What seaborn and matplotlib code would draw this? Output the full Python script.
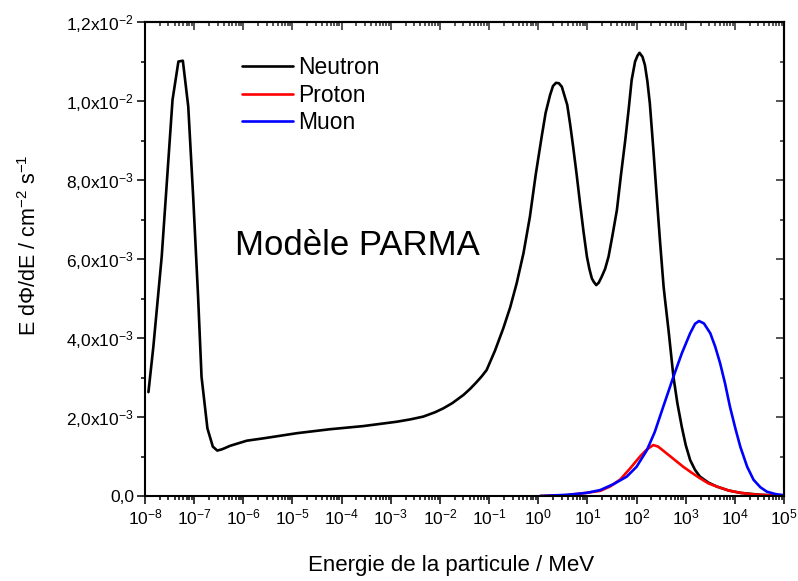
import numpy as np
import pandas as pd
import matplotlib
matplotlib.use("Agg")
import matplotlib.pyplot as plt
import matplotlib.ticker as mticker
import seaborn as sns

# Données (énergie en log10(MeV), flux en 1e-3)
neutron_logE = [-7.93, -7.83, -7.66, -7.44, -7.32, -7.23, -7.12, -7.02, -6.92, -6.85,
                -6.73, -6.62, -6.53, -6.44, -6.38, -6.27, -5.93, -5.59, -4.91, -4.24,
                -3.56, -2.88, -2.60, -2.34, -2.10, -1.93, -1.75, -1.52, -1.38, -1.25,
                -1.15, -1.05, -0.88, -0.71, -0.57, -0.44, -0.30, -0.17, -0.05, 0.07,
                0.15, 0.24, 0.30, 0.36, 0.42, 0.48, 0.59, 0.65, 0.71, 0.78,
                0.85, 0.92, 0.99, 1.04, 1.09, 1.13, 1.18, 1.23, 1.29, 1.36,
                1.43, 1.51, 1.60, 1.68, 1.77, 1.84, 1.90, 1.97, 2.02, 2.06,
                2.12, 2.17, 2.22, 2.27, 2.34, 2.41, 2.48, 2.55, 2.58, 2.65,
                2.75, 2.83, 2.92, 3.00, 3.09, 3.19, 3.29, 3.46, 3.63, 3.87,
                4.11, 4.52, 4.99]
neutron_flux = [2.63, 3.78, 6.06, 10.03, 11.00, 11.02, 9.86, 7.58, 5.05, 3.02,
                1.71, 1.25, 1.15, 1.18, 1.21, 1.27, 1.40, 1.46, 1.59, 1.69,
                1.77, 1.88, 1.94, 2.01, 2.12, 2.22, 2.35, 2.56, 2.72, 2.89,
                3.03, 3.19, 3.68, 4.25, 4.78, 5.38, 6.15, 7.07, 8.15, 9.10,
                9.70, 10.15, 10.38, 10.46, 10.45, 10.36, 9.90, 9.40, 8.84, 8.15,
                7.41, 6.70, 6.06, 5.75, 5.51, 5.42, 5.34, 5.40, 5.55, 5.75,
                6.06, 6.60, 7.24, 8.10, 9.01, 9.80, 10.53, 11.00, 11.15, 11.22,
                11.12, 10.91, 10.50, 9.94, 8.80, 7.58, 6.40, 5.30, 4.96, 4.20,
                3.02, 2.35, 1.75, 1.29, 0.91, 0.66, 0.49, 0.34, 0.24, 0.14,
                0.08, 0.03, 0.01]

proton_logE = [0.04, 0.58, 0.92, 1.26, 1.46, 1.67, 1.87, 2.07, 2.21, 2.34,
               2.44, 2.61, 2.78, 2.95, 3.12, 3.29, 3.46, 3.63, 3.87, 4.11,
               4.38, 4.65, 4.99]
proton_flux = [0.0, 0.02, 0.07, 0.13, 0.24, 0.42, 0.70, 1.00, 1.18, 1.29,
               1.25, 1.08, 0.91, 0.74, 0.59, 0.45, 0.32, 0.24, 0.14, 0.08,
               0.04, 0.02, 0.01]

muon_logE = [0.04, 0.58, 0.99, 1.26, 1.53, 1.80, 2.00, 2.21, 2.37, 2.54,
             2.75, 2.92, 3.09, 3.19, 3.27, 3.37, 3.50, 3.60, 3.70, 3.80,
             3.90, 4.01, 4.11, 4.25, 4.38, 4.52, 4.65, 4.82, 4.99]
muon_flux = [0.0, 0.03, 0.08, 0.15, 0.30, 0.49, 0.74, 1.16, 1.62, 2.25,
             3.02, 3.61, 4.12, 4.36, 4.43, 4.37, 4.12, 3.78, 3.36, 2.85,
             2.26, 1.71, 1.25, 0.74, 0.41, 0.22, 0.11, 0.05, 0.02]

series_names = ["Neutron", "Proton", "Muon"]
series_colors = ["#000000", "#ff0000", "#0000ff"]

y_ticks = [0.0, 2e-3, 4e-3, 6e-3, 8e-3, 10e-3, 12e-3]


def build_frame(logE, flux):
    return pd.DataFrame({"E": 10.0 ** np.array(logE), "flux": np.array(flux) * 1e-3})


def y_label_format(v, pos):
    if abs(v) < 1e-12:
        return "0,0"
    exp = int(np.floor(np.log10(abs(v)) + 1e-9))
    mant = v / 10 ** exp
    return f"{mant:.1f}".replace(".", ",") + r"x10$^{\mathdefault{" + f"{exp}" + "}}$"


sns.set_theme(style="ticks")
plt.rcParams["font.family"] = ["Liberation Sans", "DejaVu Sans"]
plt.rcParams["mathtext.fontset"] = "custom"
plt.rcParams["mathtext.rm"] = "Liberation Sans"
plt.rcParams["mathtext.it"] = "Liberation Sans:italic"
plt.rcParams["text.color"] = "black"
plt.rcParams["axes.labelcolor"] = "black"

fig = plt.figure(figsize=(7.98, 5.81), dpi=100)
ax = fig.add_axes([0.1817, 0.1463, 0.8008, 0.8158])

frames = [build_frame(neutron_logE, neutron_flux),
          build_frame(proton_logE, proton_flux),
          build_frame(muon_logE, muon_flux)]
for df, name, col in zip(frames, series_names, series_colors):
    sns.lineplot(data=df, x="E", y="flux", color=col, lw=1.9, label=name,
                 sort=False, ax=ax)

ax.set_xscale("log")
ax.set_xlim(1e-8, 1e5)
ax.set_ylim(0, 0.012)

ax.xaxis.set_major_locator(mticker.LogLocator(base=10, numticks=20))
ax.xaxis.set_minor_locator(mticker.LogLocator(base=10, subs=np.arange(2, 10), numticks=200))
ax.xaxis.set_minor_formatter(mticker.NullFormatter())
ax.yaxis.set_major_locator(mticker.FixedLocator(y_ticks))
ax.yaxis.set_minor_locator(mticker.MultipleLocator(1e-3))
ax.yaxis.set_major_formatter(mticker.FuncFormatter(y_label_format))

for s in ax.spines.values():
    s.set_linewidth(1.5)
    s.set_color("black")
ax.tick_params(which="major", direction="out", length=6, width=1.1, colors="black",
               labelsize=12.5, pad=2)
ax.tick_params(which="minor", direction="out", length=3.2, width=1.1, colors="black")

# graduations miroir (haut / droite), vers l'intérieur
top = ax.secondary_xaxis("top")
top.xaxis.set_major_locator(mticker.LogLocator(base=10, numticks=20))
top.xaxis.set_minor_locator(mticker.LogLocator(base=10, subs=np.arange(2, 10), numticks=200))
top.tick_params(which="major", direction="in", length=6, width=1.1, labeltop=False)
top.tick_params(which="minor", direction="in", length=3.2, width=1.1)
top.xaxis.set_major_formatter(mticker.NullFormatter())
top.xaxis.set_minor_formatter(mticker.NullFormatter())
top.spines["top"].set_linewidth(1.5)

right = ax.secondary_yaxis("right")
right.yaxis.set_major_locator(mticker.FixedLocator(y_ticks))
right.yaxis.set_minor_locator(mticker.MultipleLocator(1e-3))
right.tick_params(which="major", direction="in", length=6, width=1.1, labelright=False)
right.tick_params(which="minor", direction="in", length=3.2, width=1.1)
right.yaxis.set_major_formatter(mticker.NullFormatter())
right.spines["right"].set_linewidth(1.5)

ax.set_xlabel("Energie de la particule / MeV", fontsize=16)
ax.set_ylabel(r"E d$\Phi$/dE / cm$^{\mathdefault{-2}}$ s$^{\mathdefault{-1}}$", fontsize=15.5)
ax.xaxis.set_label_coords(0.479, -0.125)
ax.yaxis.set_label_coords(-0.163, 0.53)

ax.text(0.141, 0.508, "Modèle PARMA", transform=ax.transAxes, fontsize=25,
        va="baseline", ha="left", color="black")

ax.legend(loc="upper left", bbox_to_anchor=(0.152, 0.928), frameon=False,
          fontsize=16.5, handlelength=2.2, handletextpad=0.25, labelspacing=0.2,
          borderpad=0, borderaxespad=0)

fig.savefig("out.png", dpi=100)
